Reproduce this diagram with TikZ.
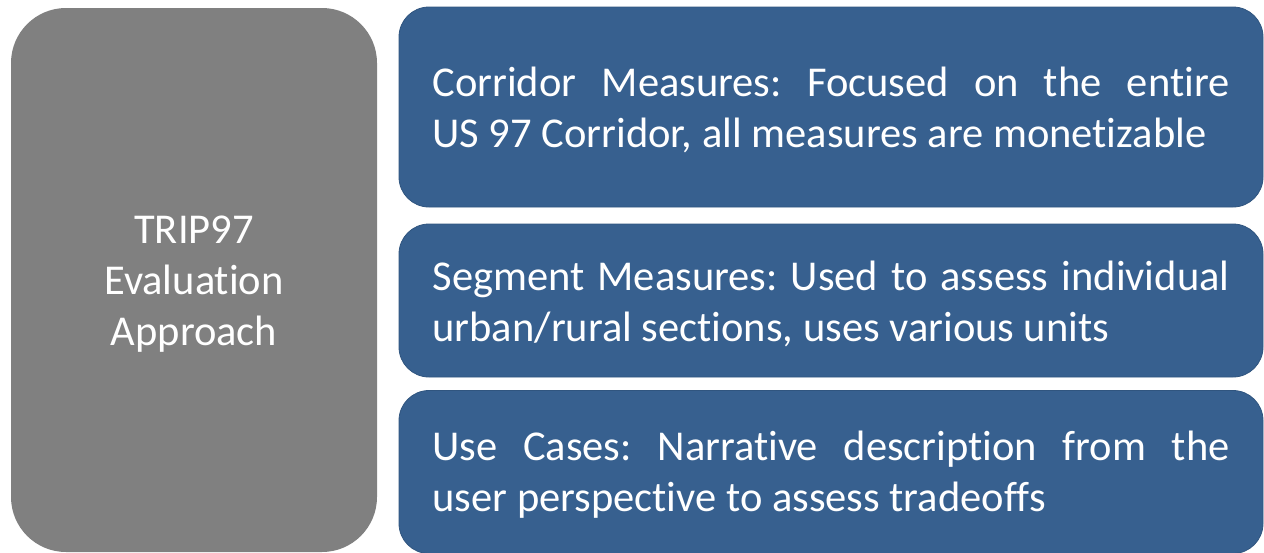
\documentclass[tikz,border=0pt]{standalone}
\usepackage{fontspec}
\setmainfont[Ligatures=NoCommon]{Carlito}
\usetikzlibrary{calc}
\definecolor{boxblue}{HTML}{37608F}
\definecolor{boxblueedge}{HTML}{30557F}
\definecolor{boxgray}{HTML}{808080}
\begin{document}
\frenchspacing
\begin{tikzpicture}[x=1pt,y=-1pt,
  graybox/.style={fill=boxgray, draw=none, rounded corners=55pt, minimum width=366pt, minimum height=544pt, inner sep=0pt},
  graytext/.style={text=white, align=center, inner sep=0pt, font=\fontsize{42.5}{51}\selectfont},
  bluebox/.style={fill=boxblue, draw=boxblueedge, line width=0.8pt, rounded corners=30pt, minimum width=864pt, inner sep=0pt},
  bluetext/.style={text=white, text width=797pt, align=justify, inner sep=0pt, font=\fontsize{42.5}{51}\selectfont}]
\useasboundingbox (0,0) rectangle (1264,552);
\node[graybox] (main) at (194,280) {};
\node[graytext] (mainlbl) at ($(main.center)+(0,4)$) {TRIP97\\Evaluation\\Approach};
\node[bluebox, minimum height=200pt] (corr) at (831,107) {};
\node[bluetext] (corrlbl) at ($(corr.center)+(0,3)$) {Corridor Measures: Focused on the entire\linebreak US 97 Corridor, all measures are monetizable};
\node[bluebox, minimum height=153pt] (seg) at (831,300.5) {};
\node[bluetext] (seglbl) at ($(seg.center)+(0,3)$) {Segment Measures: Used to assess individual\linebreak urban/rural sections, uses various units};
\node[bluebox, minimum height=163pt] (use) at (831,472) {};
\node[bluetext] (uselbl) at ($(use.center)+(0,3)$) {Use Cases: Narrative description from the\linebreak user perspective to assess tradeoffs};
\end{tikzpicture}
\end{document}
